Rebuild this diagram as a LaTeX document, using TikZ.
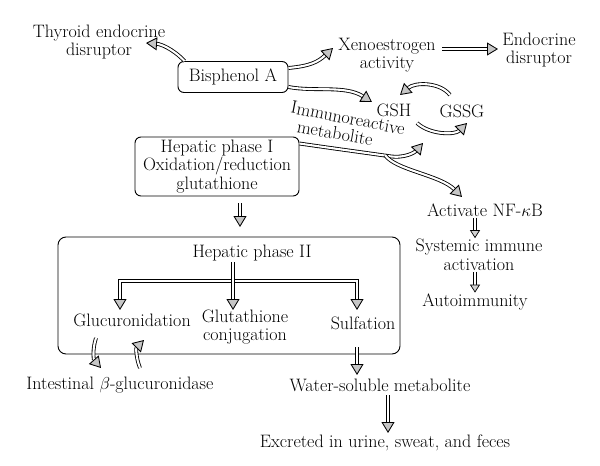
\documentclass[tikz,border=0pt]{standalone}
\usetikzlibrary{arrows.meta}
\begin{document}
\begin{tikzpicture}[x=1pt,y=-1pt,
  txt/.style={font=\fontsize{18}{18.5}\selectfont, inner sep=1pt, align=center},
  rbox/.style={txt, draw, rounded corners=6pt, line width=0.9pt},
  dar/.style={draw=black, line width=0.85pt, double=white, double distance=2.1pt,
    -{Triangle[length=11pt,width=13pt,fill=gray!45,color=black,line width=0.85pt]}},
  ddar/.style={draw=black, line width=0.85pt, double=white, double distance=2.1pt,
    {Triangle[length=11pt,width=13pt,fill=gray!45,color=black,line width=0.85pt]}-{Triangle[length=11pt,width=13pt,fill=gray!45,color=black,line width=0.85pt]}},
  sdar/.style={draw=black, line width=0.7pt, double=white, double distance=1.8pt,
    -{Triangle[length=8pt,width=10pt,fill=gray!35,color=black,line width=0.7pt]}},
]
\useasboundingbox (0,0) rectangle (600,466);

\node[txt] (thy) at (99,42) {Thyroid endocrine\\disruptor};
\node[rbox, minimum width=110pt, minimum height=31pt] (bpa) at (233,77) {Bisphenol A};
\node[txt] (xeno) at (387,55) {Xenoestrogen\\activity};
\node[txt] (endo) at (539,50) {Endocrine\\disruptor};
\node[txt] (gsh) at (394,110) {GSH};
\node[txt] (gssg) at (462,111) {GSSG};
\node[txt, rotate=-11] (immuno) at (348,118) {Immunoreactive};
\node[txt, rotate=-10] (metab) at (335,133) {metabolite};
\node[rbox, minimum width=164pt, minimum height=59pt, inner sep=2pt] (ph1) at (217,166.5) {Hepatic phase I\\Oxidation/reduction\\glutathione};

\node[draw, rounded corners=8pt, line width=0.9pt, minimum width=342pt, minimum height=117pt] (ph2box) at (229,295.5) {};
\node[txt] (ph2) at (252,253) {Hepatic phase II};
\node[txt] (gluc) at (132,320) {Glucuronidation};
\node[txt] (glut) at (245,327) {Glutathione\\conjugation};
\node[txt] (sulf) at (363,323) {Sulfation};
\node[txt] (intest) at (120,385) {Intestinal $\beta$-glucuronidase};
\node[txt] (water) at (380,385) {Water-soluble metabolite};
\node[txt] (excr) at (385,443) {Excreted in urine, sweat, and feces};
\node[txt] (nfkb) at (485,210) {Activate NF-$\kappa$B};
\node[txt] (sys) at (479,255) {Systemic immune\\activation};
\node[txt] (auto) at (475,302) {Autoimmunity};

% connectors
\draw[dar] ([xshift=7pt]bpa.north west) .. controls (172,48) and (160,44) .. (146,43);
\draw[dar] ([yshift=9pt]bpa.east) .. controls (310,66) and (318,62) .. (333,48);
\draw[dar] (442,49) -- (498,49);
\draw[dar] ([yshift=-10pt]bpa.east) .. controls (315,92) and (345,85) .. (372,102);
\draw[dar] (450,95) .. controls (440,82) and (415,82) .. (400,95);
\draw[dar] (417,123) .. controls (430,135) and (455,135) .. (467,123);
\coordinate (br) at (388,156);
\draw[dar] ([yshift=23pt]ph1.east) .. controls (330,148) and (360,152) .. (br) .. controls (405,159) and (415,152) .. (423,143);
\draw[dar] (385,155) .. controls (395,170) and (440,175) .. (462,197);
\draw[dar] (240,203) -- (240,227);

\draw[ddar] (120,310) -- (120,281) -- (357,281) -- (357,310);
\draw[dar] (233,262) -- (233,310);

\draw[dar] (96,338) .. controls (92,350) and (94,360) .. (101,368);
\draw[dar] (140,368) .. controls (136,358) and (136,348) .. (144,340);
\draw[dar] (357,347) -- (357,375);
\draw[dar] (388,395) -- (388,433);
\draw[sdar] (nfkb.south -| 475,0) -- (sys.north -| 475,0);
\draw[sdar] (sys.south -| 475,0) -- (auto.north -| 475,0);
\end{tikzpicture}
\end{document}
